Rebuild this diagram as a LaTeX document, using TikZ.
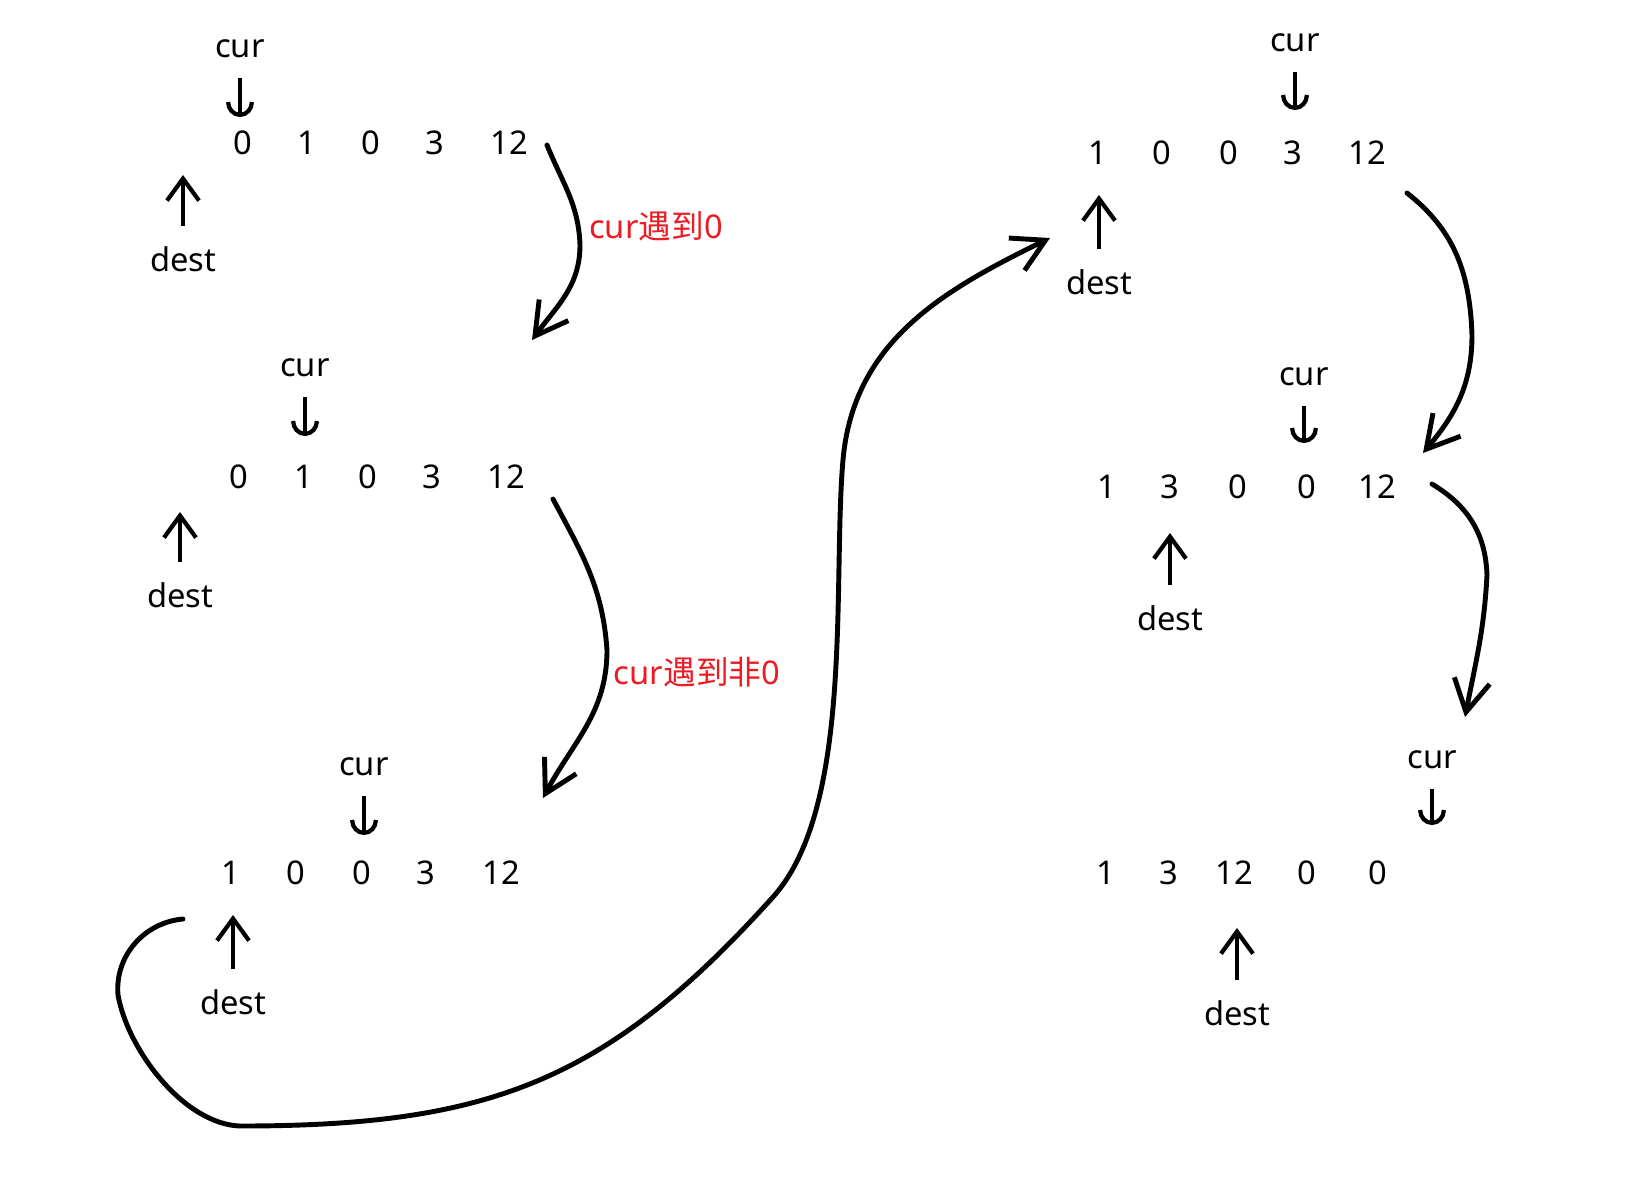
\documentclass[tikz,border=0pt]{standalone}
\usepackage{fontspec}
\setmainfont{Noto Sans}
\newfontfamily\cjkfont{Noto Sans CJK SC}
\usepackage{xcolor}
\usepackage{tikz}
\usetikzlibrary{arrows.meta}
\definecolor{penred}{HTML}{ED1C24}
\tikzset{
  numnode/.style={inner sep=1pt,font=\fontsize{9.3}{11}\selectfont},
  tagnode/.style={numnode},
  notenode/.style={numnode,text=penred},
  curptr/.style={-{Arc Barb[length=1.5mm,width=2.8mm]},line width=1.2pt,shorten <=2.9mm},
  destptr/.style={-{Straight Barb[length=2.2mm,width=3.2mm]},line width=1.2pt,shorten <=3.3mm},
  movedge/.style={-{Straight Barb[length=3.2mm,width=3.6mm]},line width=1.4pt,line cap=round,line join=round},
}

\begin{document}
\begin{tikzpicture}
  \path[use as bounding box,fill=white] (0,0) rectangle (16.47,-11.85);
  % step 1
  \node[numnode] (n1a) at (2.43,-1.43) {0};
  \node[numnode] (n1b) at (3.07,-1.43) {1};
  \node[numnode] (n1c) at (3.71,-1.43) {0};
  \node[numnode] (n1d) at (4.35,-1.43) {3};
  \node[numnode] (n1e) at (5.09,-1.43) {12};
  \node[tagnode] (c1) at (2.40,-0.49) {cur};
  \node[tagnode] (d1) at (1.83,-2.59) {dest};
  % step 2
  \node[numnode] (n2a) at (2.39,-4.77) {0};
  \node[numnode] (n2b) at (3.04,-4.77) {1};
  \node[numnode] (n2c) at (3.68,-4.77) {0};
  \node[numnode] (n2d) at (4.32,-4.77) {3};
  \node[numnode] (n2e) at (5.06,-4.77) {12};
  \node[tagnode] (c2) at (3.05,-3.68) {cur};
  \node[tagnode] (d2) at (1.80,-5.95) {dest};
  % step 3
  \node[numnode] (n3a) at (2.31,-8.73) {1};
  \node[numnode] (n3b) at (2.96,-8.73) {0};
  \node[numnode] (n3c) at (3.62,-8.73) {0};
  \node[numnode] (n3d) at (4.26,-8.73) {3};
  \node[numnode] (n3e) at (5.01,-8.73) {12};
  \node[tagnode] (c3) at (3.64,-7.67) {cur};
  \node[tagnode] (d3) at (2.33,-10.02) {dest};
  % step 4
  \node[numnode] (n4a) at (10.98,-1.53) {1};
  \node[numnode] (n4b) at (11.62,-1.53) {0};
  \node[numnode] (n4c) at (12.29,-1.53) {0};
  \node[numnode] (n4d) at (12.93,-1.53) {3};
  \node[numnode] (n4e) at (13.67,-1.53) {12};
  \node[tagnode] (c4) at (12.95,-0.43) {cur};
  \node[tagnode] (d4) at (10.99,-2.82) {dest};
  % step 5
  \node[numnode] (n5a) at (11.07,-4.87) {1};
  \node[numnode] (n5b) at (11.70,-4.87) {3};
  \node[numnode] (n5c) at (12.38,-4.87) {0};
  \node[numnode] (n5d) at (13.07,-4.87) {0};
  \node[numnode] (n5e) at (13.77,-4.87) {12};
  \node[tagnode] (c5) at (13.04,-3.77) {cur};
  \node[tagnode] (d5) at (11.70,-6.18) {dest};
  % step 6
  \node[numnode] (n6a) at (11.06,-8.73) {1};
  \node[numnode] (n6b) at (11.69,-8.73) {3};
  \node[numnode] (n6c) at (12.34,-8.73) {12};
  \node[numnode] (n6d) at (13.07,-8.73) {0};
  \node[numnode] (n6e) at (13.78,-8.73) {0};
  \node[tagnode] (c6) at (14.32,-7.60) {cur};
  \node[tagnode] (d6) at (12.37,-10.13) {dest};
  % notes
  \node[notenode] (lA) at (6.56,-2.26) {cur{\cjkfont 遇到}0};
  \node[notenode] (lB) at (6.97,-6.72) {cur{\cjkfont 遇到非}0};
  % pointers
  \draw[curptr,shorten >=2.6mm] (c1.center) -- (c1.center |- n1a.center);
  \draw[curptr,shorten >=4.1mm] (c2.center) -- (c2.center |- n2a.center);
  \draw[curptr,shorten >=3.8mm] (c3.center) -- (c3.center |- n3a.center);
  \draw[curptr,shorten >=4.3mm] (c4.center) -- (c4.center |- n4a.center);
  \draw[curptr,shorten >=4.4mm] (c5.center) -- (c5.center |- n5a.center);
  \draw[curptr,shorten >=4.8mm] (c6.center) -- (c6.center |- n6a.center);
  \draw[destptr,shorten >=3.2mm] (d1.center) -- (d1.center |- n1a.center);
  \draw[destptr,shorten >=3.5mm] (d2.center) -- (d2.center |- n2a.center);
  \draw[destptr,shorten >=4.2mm] (d3.center) -- (d3.center |- n3a.center);
  \draw[destptr,shorten >=4.2mm] (d4.center) -- (d4.center |- n4a.center);
  \draw[destptr,shorten >=4.6mm] (d5.center) -- (d5.center |- n5a.center);
  \draw[destptr,shorten >=5.5mm] (d6.center) -- (d6.center |- n6a.center);
  % moves
  \coordinate (s1) at (5.47,-1.45);
  \coordinate (m1) at (5.80,-2.45);
  \coordinate (e1) at (5.32,-3.40);
  \coordinate (s2) at (5.53,-4.99);
  \coordinate (m2) at (6.07,-6.50);
  \coordinate (e2) at (5.43,-7.98);
  \coordinate (s3) at (14.07,-1.93);
  \coordinate (m3) at (14.72,-3.35);
  \coordinate (e3) at (14.23,-4.53);
  \coordinate (s4) at (14.32,-4.84);
  \coordinate (m4) at (14.87,-5.75);
  \coordinate (e4) at (14.65,-7.17);
  \coordinate (s5) at (1.83,-9.19);
  \coordinate (w1) at (1.18,-9.95);
  \coordinate (w2) at (2.40,-11.26);
  \coordinate (w3) at (7.73,-8.97);
  \coordinate (w4) at (8.43,-4.60);
  \coordinate (e5) at (10.50,-2.38);
  \draw[movedge] (s1) to[out=-68,in=92] (m1) to[out=-90,in=54] (e1);
  \draw[movedge] (s2) to[out=-62,in=94] (m2) to[out=-90,in=62] (e2);
  \draw[movedge] (s3) to[out=-38,in=92] (m3) to[out=-90,in=50] (e3);
  \draw[movedge] (s4) to[out=-31,in=92] (m4) to[out=-93,in=79] (e4);
  \draw[movedge] (s5) to[out=185,in=95] (w1) to[out=-80,in=178,looseness=0.8] (w2)
    to[out=0,in=228,looseness=1.1] (w3) to[out=48,in=-95,looseness=0.7] (w4)
    to[out=85,in=206] (e5);
\end{tikzpicture}
\end{document}
